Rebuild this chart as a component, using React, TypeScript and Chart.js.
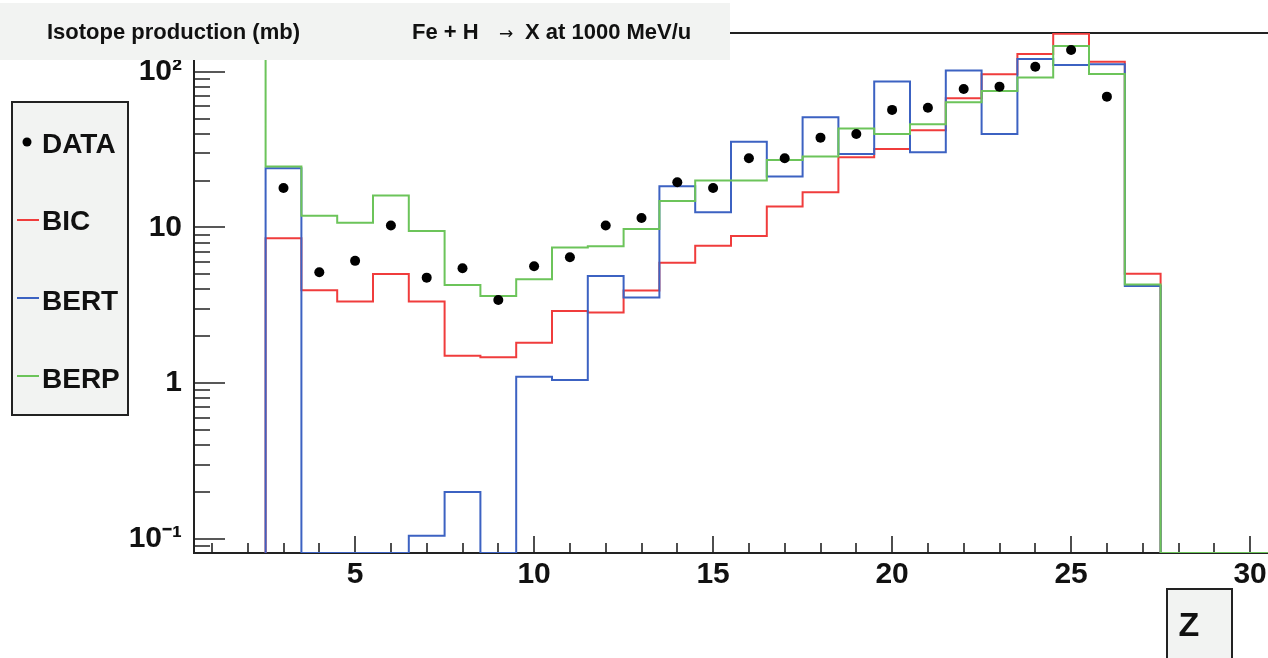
import React, { useEffect, useRef } from "react";
import { Chart, registerables } from "chart.js";

Chart.register(...registerables);

// Atomic number Z of each bin (bins are 1 wide, centred on Z)
const Z = [2, 3, 4, 5, 6, 7, 8, 9, 10, 11, 12, 13, 14, 15, 16, 17, 18, 19, 20, 21, 22, 23, 24, 25, 26, 27, 28, 29, 30];

// Measured cross sections (mb); null = no measurement
const DATA = [null, 17.9, 5.16, 6.1, 10.3, 4.76, 5.47, 3.42, 5.64, 6.44, 10.3, 11.5, 19.5, 17.9, 27.8, 27.8, 37.7, 39.8, 56.8, 58.7, 77.4, 80.1, 107.6, 137.8, 69.1, null, null, null, null];
// Model predictions (mb); 0 = empty bin
const BIC = [0, 8.53, 3.95, 3.34, 5.03, 3.34, 1.5, 1.47, 1.82, 2.91, 2.84, 3.93, 5.94, 7.64, 8.82, 13.6, 16.8, 28.2, 31.9, 42.1, 67.5, 96.2, 130, 175, 115.9, 5.05, 0, 0, 0];
const BERT = [0, 24.0, 0, 0, 0, 0.105, 0.2, 0, 1.1, 1.05, 4.88, 3.55, 18.4, 12.5, 35.5, 21.2, 51.0, 29.6, 86.3, 30.4, 101.5, 39.8, 120.7, 110.4, 111.5, 4.2, 0, 0, 0];
const BERP = [400, 24.6, 11.9, 10.7, 16.0, 9.5, 4.27, 3.63, 4.65, 7.42, 7.57, 9.77, 14.8, 20.0, 20.0, 27.1, 28.5, 43.1, 39.8, 45.9, 63.6, 75.2, 91.6, 146, 96.7, 4.3, 0, 0, 0];

const SERIES_LABELS = ["DATA", "BIC", "BERT", "BERP"];

const X_MIN = 0.5;
const X_MAX = 30.5;
const Y_MIN = 0.0813;
const Y_MAX = 177;

const X_TICKS = [5, 10, 15, 20, 25, 30];
const Y_TICKS = [0.1, 1, 10, 100];
const Y_TICK_LABELS = ["10\u207B\u00B9", "1", "10", "10\u00B2"];

const TITLE_LEFT = "Isotope production (mb)";
const TITLE_REACTION_A = "Fe + H";
const TITLE_ARROW = "\u2192";
const TITLE_REACTION_B = "X at 1000 MeV/u";
const X_TITLE = "Z";

const FONT = '"Liberation Sans", Arial, Helvetica, sans-serif';
const RED = "#f03c3c";
const BLUE = "#3c62c2";
const GREEN = "#6cc45a";

// histogram outline: empty bins sit on the axis floor (as on a log plot)
function histPoints(values: number[]) {
  const floor = (v: number) => (v <= Y_MIN ? Y_MIN : v);
  const pts = [{ x: Z[0] + 0.5, y: floor(values[0]) }];
  for (let i = 1; i < Z.length; i++) pts.push({ x: Z[i] - 0.5, y: floor(values[i]) });
  pts.push({ x: Z[Z.length - 1] + 0.5, y: floor(values[values.length - 1]) });
  return pts;
}

const insideTicks = {
  id: "insideTicks",
  beforeDatasetsDraw(chart: any) {
    const { ctx, chartArea: a, scales } = chart;
    const x = scales.x;
    const y = scales.y;
    ctx.save();
    ctx.strokeStyle = "#222";
    ctx.lineWidth = 2;
    ctx.beginPath();
    ctx.moveTo(a.left, a.top);
    ctx.lineTo(a.right, a.top);
    ctx.stroke();
    ctx.lineWidth = 1.6;
    ctx.beginPath();
    for (let e = -2; e <= 3; e++) {
      for (let k = 1; k <= 9; k++) {
        const v = k * Math.pow(10, e);
        if (v < y.min || v > y.max) continue;
        const py = Math.round(y.getPixelForValue(v));
        const len = k === 1 ? 31 : 16;
        ctx.moveTo(a.left, py);
        ctx.lineTo(a.left + len, py);
      }
    }
    for (let v = Math.ceil(x.min); v <= Math.floor(x.max); v++) {
      const px = Math.round(x.getPixelForValue(v));
      const len = v % 5 === 0 ? 17 : 10;
      ctx.moveTo(px, a.bottom);
      ctx.lineTo(px, a.bottom - len);
    }
    ctx.stroke();
    ctx.restore();
  },
};

const overlay = {
  id: "overlay",
  afterDraw(chart: any) {
    const { ctx } = chart;
    ctx.save();
    // title band
    ctx.fillStyle = "#f2f3f2";
    ctx.fillRect(0, 3, 730, 57);
    ctx.fillStyle = "#111";
    ctx.textBaseline = "alphabetic";
    ctx.textAlign = "left";
    ctx.font = `bold 22px ${FONT}`;
    ctx.fillText(TITLE_LEFT, 47, 39);
    ctx.fillText(TITLE_REACTION_A, 412, 39);
    ctx.fillText(TITLE_REACTION_B, 525, 39);
    ctx.font = `17px "DejaVu Sans", sans-serif`;
    ctx.fillText(TITLE_ARROW, 499, 39);

    // legend
    ctx.fillStyle = "#f2f3f2";
    ctx.fillRect(12, 102, 116, 313);
    ctx.strokeStyle = "#222";
    ctx.lineWidth = 2;
    ctx.strokeRect(12, 102, 116, 313);
    const rows = [
      { mark: 142, base: 153 },
      { mark: 220, base: 230 },
      { mark: 298, base: 310 },
      { mark: 376, base: 388 },
    ];
    chart.data.datasets.slice().sort((p: any, q: any) => SERIES_LABELS.indexOf(p.label) - SERIES_LABELS.indexOf(q.label)).forEach((ds: any, i: number) => {
      const r = rows[i];
      if (ds.showLine === false) {
        ctx.fillStyle = "#000";
        ctx.beginPath();
        ctx.arc(27, r.mark, 4.5, 0, Math.PI * 2);
        ctx.fill();
      } else {
        ctx.strokeStyle = ds.borderColor;
        ctx.lineWidth = 2;
        ctx.beginPath();
        ctx.moveTo(17, r.mark);
        ctx.lineTo(39, r.mark);
        ctx.stroke();
      }
      ctx.fillStyle = "#111";
      ctx.font = `bold 28px ${FONT}`;
      ctx.fillText(ds.label, 42, r.base);
    });

    // axis title box
    ctx.fillStyle = "#f2f3f2";
    ctx.fillRect(1167, 589, 65, 80);
    ctx.strokeStyle = "#222";
    ctx.lineWidth = 2;
    ctx.strokeRect(1167, 589, 65, 80);
    ctx.fillStyle = "#111";
    ctx.font = `bold 34px ${FONT}`;
    ctx.textAlign = "center";
    ctx.fillText(X_TITLE, 1189, 636);
    ctx.restore();
  },
};

export default function App() {
  const ref = useRef<HTMLCanvasElement | null>(null);

  useEffect(() => {
    const canvas = ref.current;
    if (!canvas) return;
    const tickFont = { family: FONT, size: 30, weight: "bold" as const };
    const chart = new Chart(canvas, {
      type: "line",
      data: {
        datasets: [
          {
            label: SERIES_LABELS[0],
            data: Z.map((z, i) => ({ x: z, y: DATA[i] })).filter((p) => p.y !== null) as any,
            showLine: false,
            pointRadius: 5,
            pointBorderWidth: 0,
            pointBackgroundColor: "#000",
            borderColor: "#000",
            order: 0,
          },
          {
            label: SERIES_LABELS[1],
            data: histPoints(BIC) as any,
            borderColor: RED,
            borderWidth: 2,
            pointRadius: 0,
            stepped: "before",
            fill: false,
            order: 3,
          },
          {
            label: SERIES_LABELS[2],
            data: histPoints(BERT) as any,
            borderColor: BLUE,
            borderWidth: 2,
            pointRadius: 0,
            stepped: "before",
            fill: false,
            order: 2,
          },
          {
            label: SERIES_LABELS[3],
            data: histPoints(BERP) as any,
            borderColor: GREEN,
            borderWidth: 2,
            pointRadius: 0,
            stepped: "before",
            fill: false,
            order: 1,
          },
        ],
      },
      options: {
        responsive: false,
        animation: false,
        devicePixelRatio: 1,
        layout: { autoPadding: false, padding: { top: 33, right: 0, bottom: 0, left: 0 } },
        plugins: {
          legend: { display: false },
          tooltip: { enabled: false },
          title: { display: false },
        },
        scales: {
          x: {
            type: "linear",
            min: X_MIN,
            max: X_MAX,
            afterBuildTicks: (s: any) => {
              s.ticks = X_TICKS.map((v) => ({ value: v }));
            },
            afterFit: (s: any) => {
              s.height = 105;
              s.paddingLeft = 0;
              s.paddingRight = 0;
            },
            ticks: {
              font: tickFont,
              color: "#111",
              padding: 4,
              maxRotation: 0,
              autoSkip: false,
              callback: (v: any) => String(v),
            },
            grid: { display: true, drawOnChartArea: false, drawTicks: false },
            border: { display: true, color: "#222", width: 2 },
          },
          y: {
            type: "logarithmic",
            min: Y_MIN,
            max: Y_MAX,
            afterBuildTicks: (s: any) => {
              s.ticks = Y_TICKS.map((v) => ({ value: v }));
            },
            afterFit: (s: any) => {
              s.width = 194;
              s.paddingTop = 0;
              s.paddingBottom = 0;
            },
            ticks: {
              font: tickFont,
              color: "#111",
              padding: 12,
              autoSkip: false,
              callback: (v: any, i: number) => Y_TICK_LABELS[i],
            },
            grid: { display: true, drawOnChartArea: false, drawTicks: false },
            border: { display: true, color: "#222", width: 2 },
          },
        },
      },
      plugins: [insideTicks, overlay],
    });
    return () => chart.destroy();
  }, []);

  return (
    <div style={{ position: "fixed", left: 0, top: 0, width: 1268, height: 658, background: "#fff" }}>
      <canvas ref={ref} width={1268} height={658} style={{ display: "block", width: 1268, height: 658 }} />
    </div>
  );
}
